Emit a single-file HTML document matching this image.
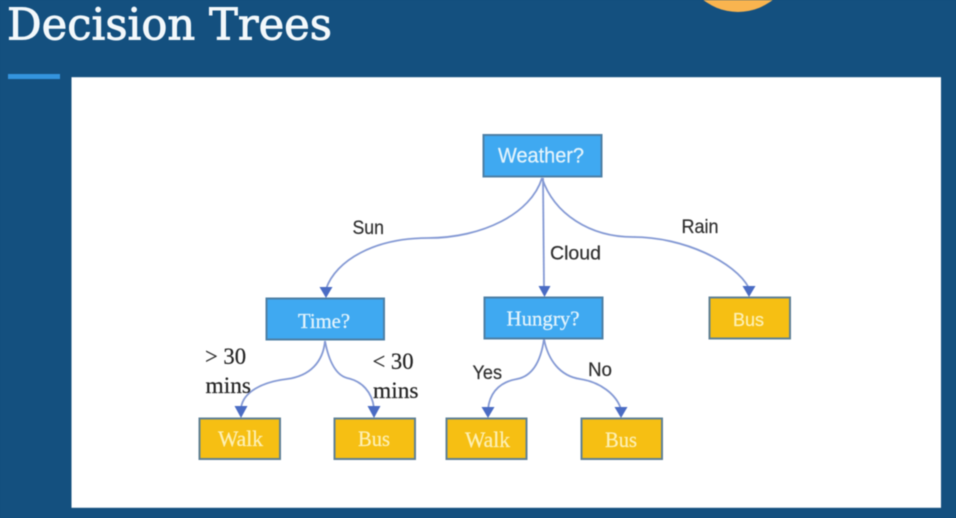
<!DOCTYPE html>
<html lang="en">
<head>
<meta charset="utf-8">
<title>Decision Trees</title>
<style>
  html, body { margin: 0; padding: 0; background: #14507f; }
  body { width: 956px; height: 518px; overflow: hidden; }
  svg { display: block; filter: blur(0.55px); }
  .edge { fill: none; stroke: #8499d4; stroke-width: 1.8; }
  .head { fill: #4a6cc4; }
  .blue { fill: #3fa9f1; stroke: #4c7fa6; stroke-width: 2; }
  .gold { fill: #f6bf13; stroke: #5f8095; stroke-width: 2; }
  .sans { font-family: "Liberation Sans", sans-serif; }
  .serif { font-family: "Liberation Serif", serif; }
  .node-text { fill: #e4f4fc; font-size: 21px; stroke: #e4f4fc; stroke-width: 0.25; }
  .gold-text { fill: #fdf0b4; font-size: 22px; stroke: #fdf0b4; stroke-width: 0.25; }
  .label { fill: #2e2e2e; font-size: 19px; stroke: #2e2e2e; stroke-width: 0.2; }
  .label-serif { fill: #222; font-size: 23px; stroke: #222; stroke-width: 0.2; }
</style>
</head>
<body>
<svg width="956" height="518" viewBox="0 0 956 518" xmlns="http://www.w3.org/2000/svg">
  <rect x="-2" y="-2" width="960" height="522" fill="#14507f"/>
  <circle cx="738" cy="-44" r="56" fill="#f9b44f"/>
  <text x="7" y="39.5" font-family="'DejaVu Serif', 'Liberation Serif', serif" font-size="44" fill="#f3f8fb" stroke="#f3f8fb" stroke-width="0.9" textLength="325" lengthAdjust="spacingAndGlyphs">Decision Trees</text>
  <rect x="8" y="74" width="52" height="5" fill="#3494de"/>
  <rect x="71.5" y="77.2" width="869.5" height="430.6" fill="#ffffff"/>

  <g>
    <path class="edge" d="M542 178 C531 214 482 238 428 238 C375 238 336 260 326 289"/>
    <path class="edge" d="M543 178 L544 288"/>
    <path class="edge" d="M542 178 C554 214 590 237 633 237 C684 237 735 262 749 288"/>
    <path class="edge" d="M325 341 C323 362 310 376 287 379 C262 382 243 392 241 408"/>
    <path class="edge" d="M325 341 C329 362 336 375 347 378 C362 381 372 392 374 408"/>
    <path class="edge" d="M544 339 C541 360 533 376 517 379 C500 382 490 392 488 409"/>
    <path class="edge" d="M544 339 C548 360 560 376 580 379 C600 382 616 394 621 409"/>
  </g>

  <g>
    <polygon class="head" points="319.5,287 332.5,287 326,298"/>
    <polygon class="head" points="538.5,286 550.5,286 544.5,297"/>
    <polygon class="head" points="742.5,286 755.5,286 749,297"/>
    <polygon class="head" points="234.5,406 247.5,406 241,418"/>
    <polygon class="head" points="367.5,406 380.5,406 374,418"/>
    <polygon class="head" points="481.5,407 494.5,407 488,418"/>
    <polygon class="head" points="614.5,407 627.5,407 621,418"/>
  </g>

  <g>
    <rect class="blue" x="483.5" y="135" width="118" height="41.5"/>
    <text class="sans node-text" x="498" y="162.5" textLength="86" lengthAdjust="spacingAndGlyphs">Weather?</text>
    <rect class="blue" x="266.5" y="298.5" width="117.5" height="41"/>
    <text class="serif node-text" x="298" y="328" textLength="52" lengthAdjust="spacingAndGlyphs">Time?</text>
    <rect class="blue" x="484.5" y="297.5" width="118" height="41"/>
    <text class="serif node-text" x="506.5" y="325.5" textLength="73" lengthAdjust="spacingAndGlyphs">Hungry?</text>
  </g>

  <g>
    <rect class="gold" x="709.5" y="297.5" width="80.5" height="41"/>
    <text class="sans gold-text" x="733" y="326" style="font-size:18px" textLength="31" lengthAdjust="spacingAndGlyphs">Bus</text>
    <rect class="gold" x="199.5" y="418.5" width="80.5" height="40.5"/>
    <text class="serif gold-text" x="218" y="446" textLength="45" lengthAdjust="spacingAndGlyphs">Walk</text>
    <rect class="gold" x="334.5" y="418.5" width="80.5" height="40.5"/>
    <text class="serif gold-text" x="358" y="446" textLength="32" lengthAdjust="spacingAndGlyphs">Bus</text>
    <rect class="gold" x="446.5" y="418.5" width="80" height="40.5"/>
    <text class="serif gold-text" x="465" y="447" textLength="45" lengthAdjust="spacingAndGlyphs">Walk</text>
    <rect class="gold" x="581.5" y="418.5" width="80.5" height="40.5"/>
    <text class="serif gold-text" x="605" y="447" textLength="32" lengthAdjust="spacingAndGlyphs">Bus</text>
  </g>

  <g>
    <text class="sans label" x="352.5" y="234" textLength="31.5" lengthAdjust="spacingAndGlyphs">Sun</text>
    <text class="sans label" x="550" y="259.5" textLength="51" lengthAdjust="spacingAndGlyphs">Cloud</text>
    <text class="sans label" x="681.5" y="233" textLength="37" lengthAdjust="spacingAndGlyphs">Rain</text>
    <text class="sans label" x="472.5" y="379" textLength="29.5" lengthAdjust="spacingAndGlyphs">Yes</text>
    <text class="sans label" x="588" y="376" textLength="24" lengthAdjust="spacingAndGlyphs">No</text>
    <text class="serif label-serif" x="205" y="364" textLength="41" lengthAdjust="spacingAndGlyphs">&gt; 30</text>
    <text class="serif label-serif" x="205.5" y="393" textLength="45.5" lengthAdjust="spacingAndGlyphs">mins</text>
    <text class="serif label-serif" x="372.5" y="369" textLength="41" lengthAdjust="spacingAndGlyphs">&lt; 30</text>
    <text class="serif label-serif" x="373" y="398" textLength="45.5" lengthAdjust="spacingAndGlyphs">mins</text>
  </g>
</svg>
</body>
</html>
